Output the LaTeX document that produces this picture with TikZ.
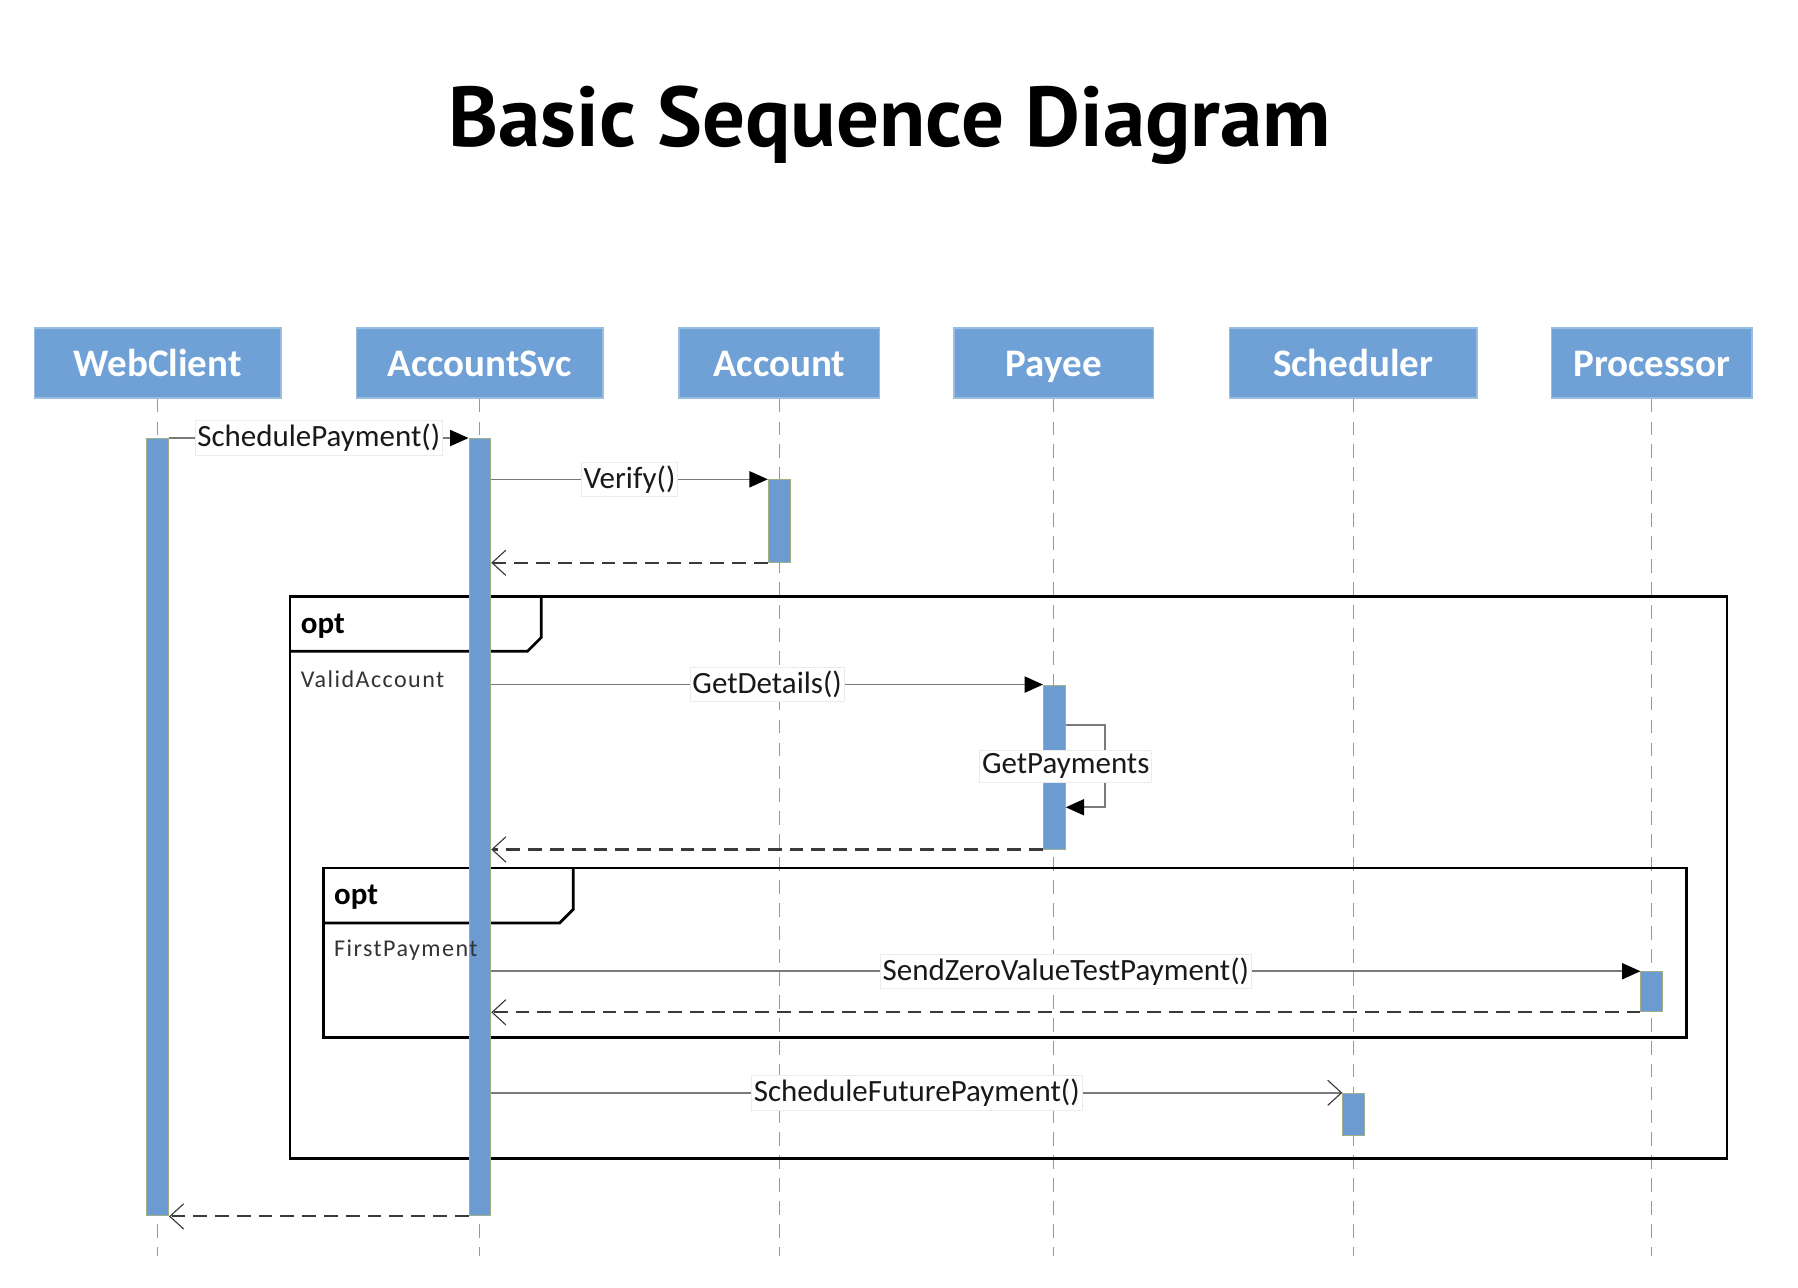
\documentclass[tikz,border=0pt]{standalone}
\usepackage{fontspec}
\setmainfont{Carlito}
\newfontfamily\titlefont{PT Sans}
\usetikzlibrary{arrows.meta,calc}

\definecolor{hdrblue}{HTML}{6FA0D6}
\definecolor{barblue}{HTML}{6B9BD1}
\definecolor{baredge}{HTML}{9DB08A}
\definecolor{lifeline}{HTML}{7F9CC4}
\definecolor{msggray}{HTML}{7A7A7A}
\definecolor{retgray}{HTML}{3A3A3A}

\tikzset{
  header/.style={fill=hdrblue, draw=hdrblue!70!white, line width=0.6pt,
    minimum height=30.5pt, inner sep=0pt, text=white,
    text height=11.5pt, text depth=0pt,
    font=\fontsize{17}{20}\selectfont\bfseries},
  actbar/.style={fill=barblue, draw=baredge, line width=0.4pt,
    minimum width=9.5pt, inner sep=0pt, anchor=north},
  lifeln/.style={draw=lifeline, line width=0.5pt, dash pattern=on 6pt off 4pt},
  callmsg/.style={draw=msggray, line width=0.7pt,
    -{Triangle[length=8pt,width=7pt,fill=black,color=black]}},
  asyncmsg/.style={draw=msggray, line width=0.7pt,
    -{Straight Barb[length=6pt,width=11pt,line width=0.5pt,color=retgray]}},
  retmsg/.style={draw=retgray, line width=0.9pt, dash pattern=on 6pt off 3.5pt,
    -{Straight Barb[length=6pt,width=11pt,line width=0.5pt]}},
  msglabel/.style={fill=white, draw=black!8, line width=0.3pt,
    inner xsep=1pt, inner ysep=1.5pt, text=black!90,
    font=\fontsize{13.5}{15}\selectfont},
  frameline/.style={draw=black, line width=1.2pt},
  optlabel/.style={anchor=west, inner sep=0pt, font=\fontsize{13.5}{15}\selectfont\bfseries},
  guardlabel/.style={anchor=west, inner sep=0pt, text=black!80,
    font=\fontsize{10.5}{12}\selectfont\addfontfeatures{LetterSpace=6}},
}

\begin{document}
\begin{tikzpicture}[x=0.5pt, y=-0.5pt]
  \useasboundingbox (0,0) rectangle (1568,1123);

  % title
  \node (title) at (776,109)
    {\titlefont\fontsize{37}{44}\selectfont\bfseries Basic Sequence Diagram};

  % participants
  \node[header, minimum width=107.5pt] (wc) at (137.5,316.5) {WebClient};
  \node[header, minimum width=107.5pt] (as) at (418.5,316.5) {AccountSvc};
  \node[header, minimum width=87.5pt]  (ac) at (679.5,316.5) {Account};
  \node[header, minimum width=87pt]    (py) at (919,316.5)   {Payee};
  \node[header, minimum width=108pt]   (sc) at (1180,316.5)  {Scheduler};
  \node[header, minimum width=87.5pt]  (pr) at (1440.5,316.5){Processor};

  % lifelines
  \foreach \p in {wc,as,ac,py,sc,pr}
    \coordinate (\p end) at ($(\p.south) + (0,748)$);
  \foreach \p in {wc,as,ac,py,sc,pr}
    \draw[lifeln] (\p.south) -- (\p end);

  % combined fragments
  \draw[frameline] (253,520) rectangle (1506,1010);
  \draw[frameline] (253,568) -- (460,568) -- (472,556) -- (472,520);
  \draw[frameline] (282,757) rectangle (1471,905);
  \draw[frameline] (282,805) -- (488,805) -- (500,793) -- (500,757);

  % activation bars
  \node[actbar, minimum height=339pt]  (wcbar) at (137.5,382) {};
  \node[actbar, minimum height=339pt]  (asbar) at (418.5,382) {};
  \node[actbar, minimum height=36pt]   (acbar) at (679.5,418) {};
  \node[actbar, minimum height=71.5pt] (pybar) at (919.5,597) {};
  \node[actbar, minimum height=17.5pt] (prbar) at (1440.5,847) {};
  \node[actbar, minimum height=18.5pt] (scbar) at (1180.5,953) {};

  % fragment operators and guards
  \node[optlabel] (opt1) at (262,546) {opt};
  \node[guardlabel] (g1) at (262,592) {ValidAccount};
  \node[optlabel] (opt2) at (291,782) {opt};
  \node[guardlabel] (g2) at (291,829) {FirstPayment};

  % messages
  \draw[callmsg] (wcbar.north east) -- (asbar.north west)
    node[msglabel, midway] (l1) {SchedulePayment()};
  \draw[callmsg] (asbar.east |- acbar.north) -- (acbar.north west)
    node[msglabel, midway] (l2) {Verify()};
  \draw[retmsg] (acbar.south west) -- (asbar.east |- acbar.south);

  \draw[callmsg] (asbar.east |- pybar.north) -- (pybar.north west)
    node[msglabel, midway] (l3) {GetDetails()};

  \coordinate (selfa) at ($(pybar.north east) + (0,35)$);
  \coordinate (selfb) at ($(pybar.north east) + (34,35)$);
  \coordinate (selfc) at ($(pybar.north east) + (34,107)$);
  \coordinate (selfd) at ($(pybar.north east) + (0,107)$);
  \draw[callmsg] (selfa) -- (selfb) -- (selfc) -- (selfd);
  \node[msglabel] (l4) at ($(pybar.north east) + (0,71)$) {GetPayments};

  \draw[retmsg] (pybar.south west) -- (asbar.east |- pybar.south);

  \draw[callmsg] (asbar.east |- prbar.north) -- (prbar.north west)
    node[msglabel, midway] (l5) {SendZeroValueTestPayment()};
  \draw[retmsg] (prbar.south west) -- (asbar.east |- prbar.south);

  \draw[asyncmsg] (asbar.east |- scbar.north) -- (scbar.north west)
    node[msglabel, midway] (l6) {ScheduleFuturePayment()};

  \draw[retmsg] (asbar.south west) -- (wcbar.south east);
\end{tikzpicture}
\end{document}
